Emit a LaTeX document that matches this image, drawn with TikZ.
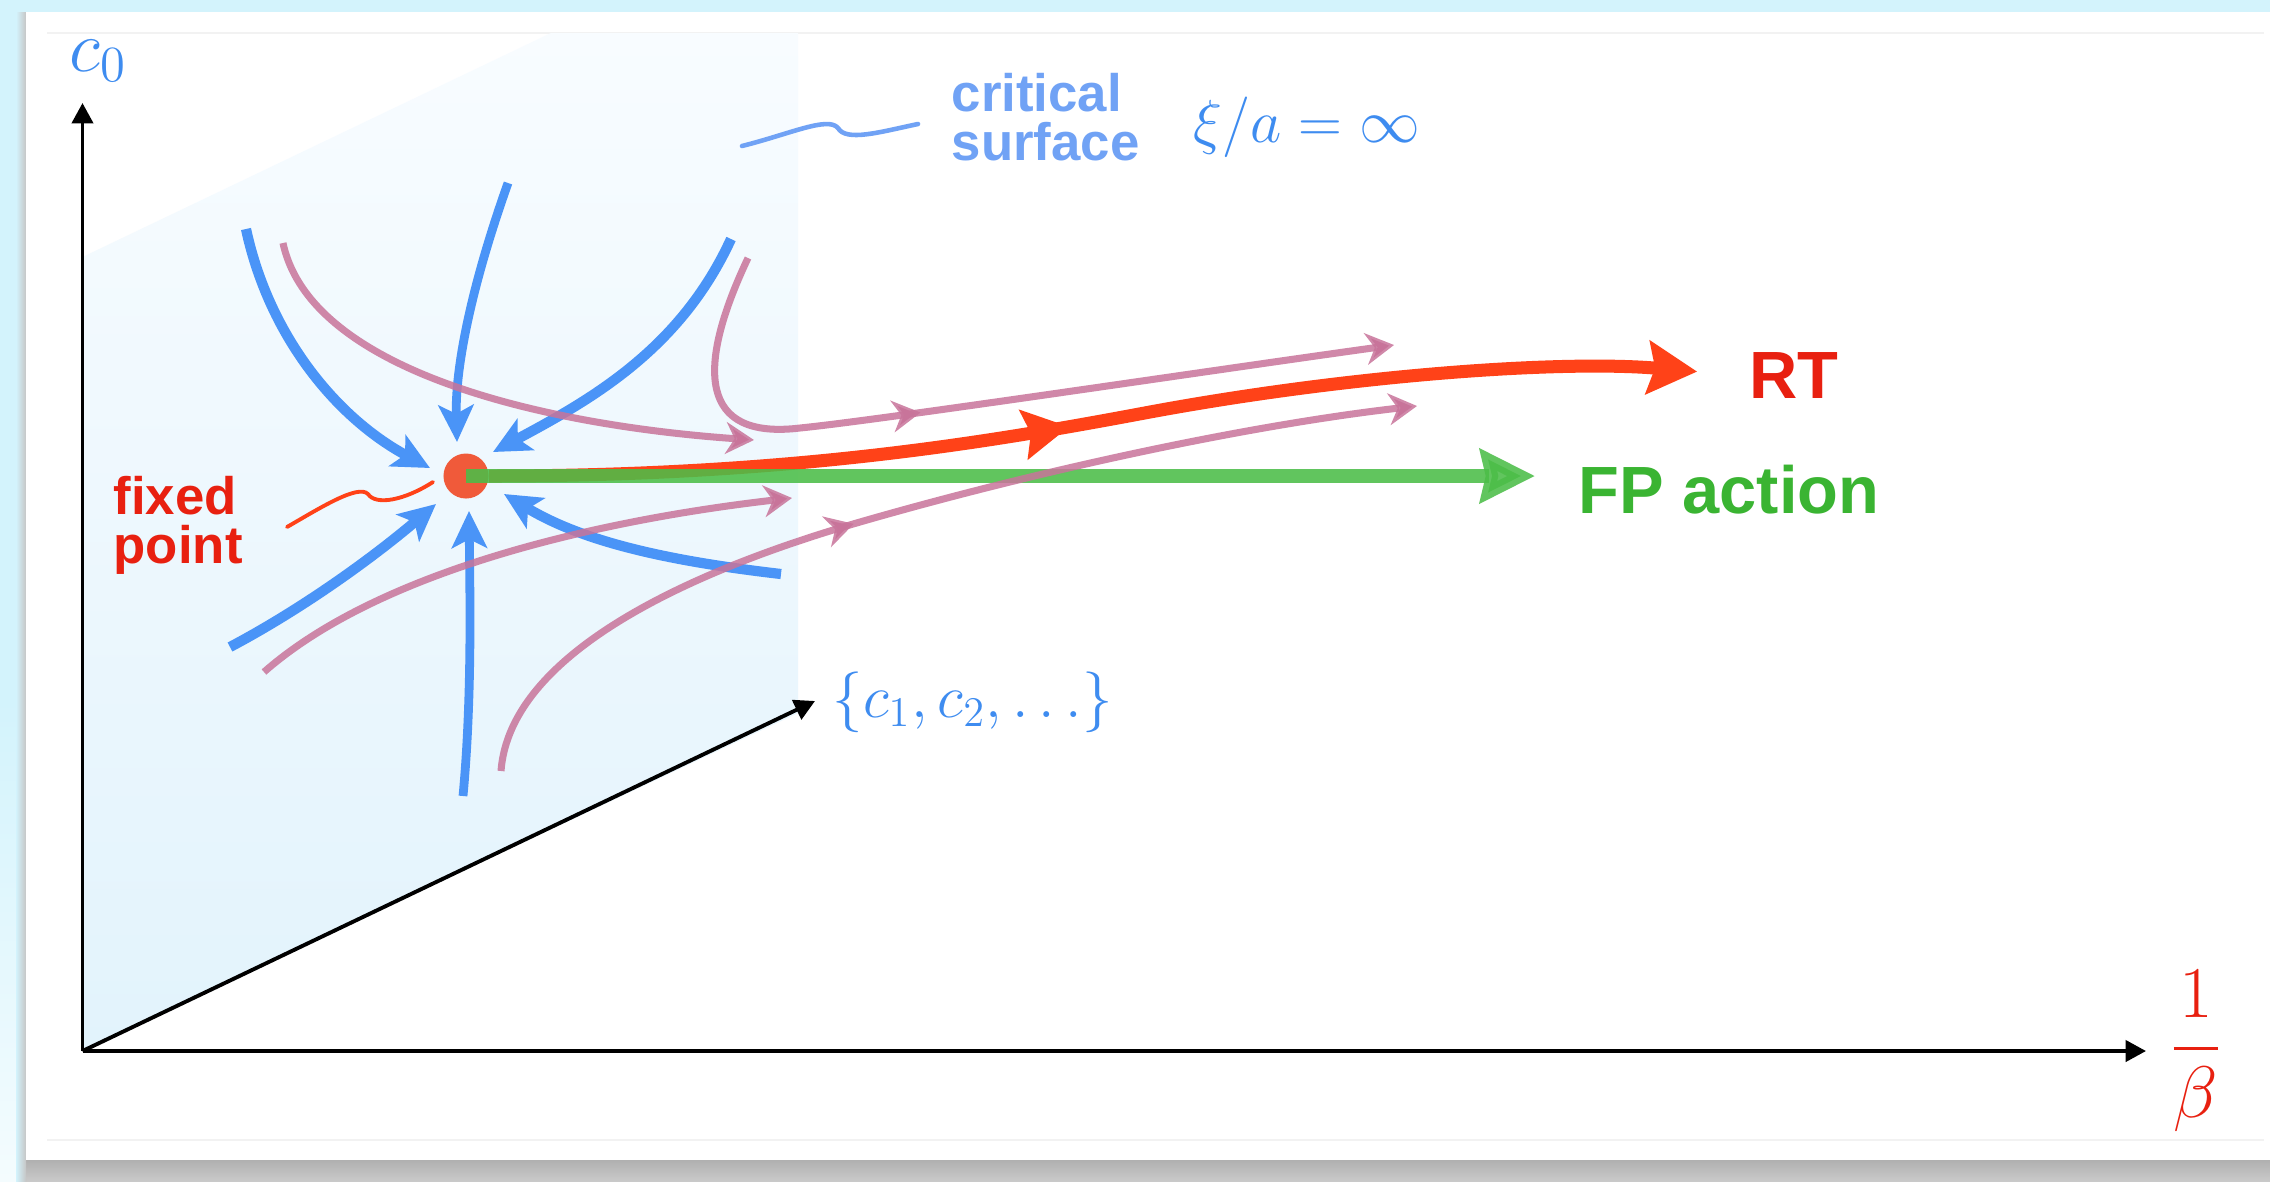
\documentclass[tikz,border=0pt]{standalone}
\usepackage{fontspec}
\newfontfamily\labelfont{Liberation Sans}
\usepackage{amsmath}
\usetikzlibrary{arrows.meta, positioning, decorations.markings}
\definecolor{fondo}{RGB}{211,243,252}
\definecolor{planoarriba}{RGB}{248,252,255}
\definecolor{planoabajo}{RGB}{226,243,252}
\definecolor{azulflujo}{RGB}{74,148,247}
\definecolor{azulmate}{RGB}{62,140,240}
\definecolor{azultexto}{RGB}{112,162,245}
\definecolor{rosaflujo}{RGB}{200,116,154}
\definecolor{rojoRT}{RGB}{255,66,24}
\definecolor{rojotexto}{RGB}{232,32,16}
\definecolor{verdeFP}{RGB}{76,190,72}
\definecolor{verdetexto}{RGB}{58,180,50}
\definecolor{puntofijo}{RGB}{240,90,58}

\begin{document}
\begin{tikzpicture}[x=0.01cm, y=-0.01cm,
  eje/.style={black, line width=1.1pt, -{Triangle[length=5.8pt, width=6pt]}},
  flujo/.style={azulflujo, line width=2.9pt,
    -{Stealth[length=10.5pt, width=10pt, inset=2.5pt]}},
  flujofino/.style={flujo, line width=2.5pt},
  rosa/.style={rosaflujo, draw opacity=0.85, line width=2pt,
    -{Stealth[length=8pt, width=9pt, inset=2.5pt]}},
  rosamedio/.style={postaction={decorate, decoration={markings,
    mark=at position #1 with {\arrow{Stealth[length=8pt, width=9pt, inset=2.5pt]}}}}},
  rojo/.style={rojoRT, line width=3.7pt,
    -{Stealth[length=14pt, width=15pt, inset=2pt]}},
  rojomedio/.style={postaction={decorate, decoration={markings,
    mark=at position #1 with {\arrow{Stealth[length=13pt, width=14pt, inset=2pt]}}}}},
  verde/.style={verdeFP, line width=3.9pt, draw opacity=0.88, fill opacity=0.88,
    -{Stealth[length=15.5pt, width=15pt, inset=1.5pt]}},
  punto/.style={circle, fill=puntofijo, minimum size=0.45cm, inner sep=0pt},
  etiqueta/.style={font=\labelfont\bfseries\fontsize{15}{14}\selectfont,
    inner sep=0pt, align=left},
  grande/.style={font=\labelfont\bfseries\fontsize{19}{22}\selectfont, inner sep=0pt},
  mate/.style={text=azulmate, font=\fontsize{17}{20}\selectfont, inner sep=0pt},
  garabato/.style={line width=1.1pt, line cap=round}
]
\useasboundingbox (0,0) rectangle (2270,1181);
\fill[fondo] (0,0) rectangle (2270,1181);
\shade[top color=fondo, bottom color=fondo!25] (0,700) rectangle (18,1181);
\shade[top color=gray!62, bottom color=gray!42] (18,1160) rectangle (2270,1181);
\shade[left color=fondo, right color=gray!45] (16,12) rectangle (26,1181);
\fill[white] (26,12) rectangle (2270,1160);
\draw[gray!10, line width=0.4pt] (47,33) -- (2264,33) (47,1140) -- (2264,1140);

\shade[top color=planoarriba, bottom color=planoabajo]
  (82.5,1050) -- (82.5,257) -- (551,33) -- (798,33) -- (798,713) -- cycle;

\coordinate (O) at (82.5,1051);
\draw[eje] (O) -- (82.5,103);
\draw[eje] (O) -- (2146,1051);
\draw[eje] (O) -- (815,701);

\node[mate, anchor=base west, font=\fontsize{20}{24}\selectfont] (c0) at (69,71) {$c_0$};
\node[mate, anchor=base west] (ci) at (832,717) {$\{c_1, c_2, \ldots\}$};
\node[text=rojotexto, inner sep=0pt, anchor=base,
  font=\fontsize{21}{24}\selectfont] (beta) at (2196,1067) {$\displaystyle\frac{1}{\beta}$};
\node[mate, anchor=base west] (xi) at (1193,142) {$\xi/a = \infty$};
\node[etiqueta, text=azultexto, anchor=west] (crit) at (951,117) {critical\\surface};
\node[etiqueta, text=rojotexto, anchor=west] (fixed) at (113,525) {fixed\\point};

\draw[flujo] (246,229) .. controls (270,340) and (340,420) .. (430,468);
\draw[flujofino] (508,183) .. controls (470,290) and (455,370) .. (457,442);
\draw[flujo] (731,239) .. controls (680,350) and (590,400) .. (493,452);
\draw[flujo] (781,574) .. controls (660,560) and (580,540) .. (504,494);
\draw[flujofino] (463,796) .. controls (472,700) and (470,600) .. (469,511);
\draw[flujo] (230,647) .. controls (300,610) and (370,560) .. (436,504);

\node[punto] (fp) at (466,476) {};
\node[grande, text=rojotexto, anchor=west] (rt) at (1749,376) {RT};
\node[grande, text=verdetexto, anchor=west] (fpact) at (1578,490) {FP action};

\draw[rojo, rojomedio=0.46, shorten >=0.52cm] (fp.east)
  .. controls (800,476) and (1000,440) .. (1150,412)
  .. controls (1350,375) and (1560,360) .. (rt.west);
\draw[verde, shorten >=0.43cm] (fp.center) -- (fp.center -| fpact.west);

\draw[rosa] (283,243) .. controls (310,370) and (540,425) .. (754,440);
\draw[rosa, rosamedio=0.43] (748,258) .. controls (695,370) and (700,440) .. (800,428)
  .. controls (880,420) and (1200,372) .. (1394,345);
\draw[rosa] (264,672) .. controls (380,570) and (600,520) .. (792,498);
\draw[rosa, rosamedio=0.44] (501,771) .. controls (510,650) and (700,568) .. (860,522)
  .. controls (1040,470) and (1250,425) .. (1417,406);

\draw[garabato, azultexto, line width=1.3pt] (742,146) .. controls (790,134) and (828,116) .. (838,128)
  .. controls (846,142) and (880,132) .. (918,124);
\draw[garabato, rojoRT] (287,527) .. controls (320,508) and (358,484) .. (368,494)
  .. controls (376,506) and (405,500) .. (433,482);
\end{tikzpicture}
\end{document}
